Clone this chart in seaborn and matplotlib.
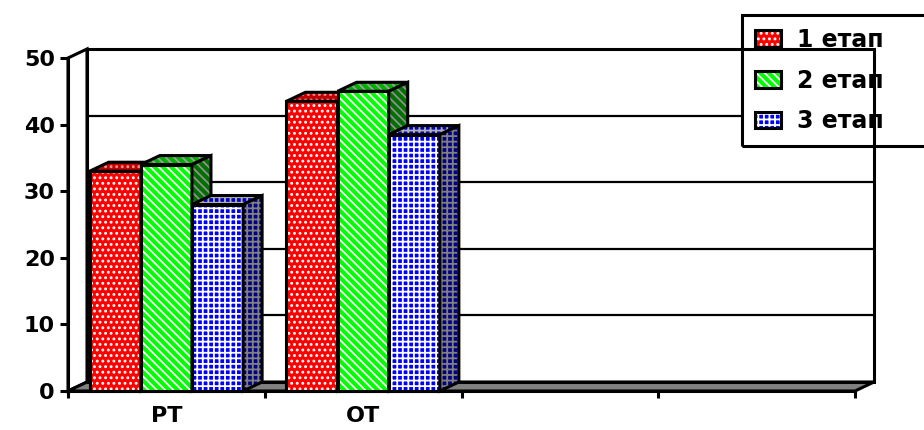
import numpy as np
import pandas as pd
import matplotlib
matplotlib.use("Agg")
import matplotlib.pyplot as plt
import seaborn as sns
from matplotlib.patches import Polygon, Rectangle, Patch
from matplotlib.legend_handler import HandlerTuple

# ---------------- data ----------------
categories = ["РТ", "ОТ"]
empty_slots = 2
stages = ["1 етап", "2 етап", "3 етап"]
stage1 = [33, 43.5]
stage2 = [34, 45]
stage3 = [28, 38.5]
yticks = [0, 10, 20, 30, 40, 50]

# ---------------- styles ----------------
front_colors = ["#ff0000", "#00ff00", "#0000ff"]
hatches = ["...", "\\\\\\\\", "+++"]
top_colors = ["#c00000", "#00b000", "#0000c0"]
top_hatch = ["#ff9090", "#a0a0a0", "#b0b0b0"]
side_colors = ["#900000", "#007000", "#000080"]
side_hatch = ["#c06060", "#909090", "#808080"]

sns.set_theme(style="white")
plt.rcParams["font.family"] = ["DejaVu Sans"]
plt.rcParams["font.weight"] = "bold"
plt.rcParams["text.color"] = "black"
plt.rcParams["hatch.linewidth"] = 1.3

df = pd.DataFrame({
    "cat": categories * 3,
    "stage": np.repeat(stages, len(categories)),
    "val": stage1 + stage2 + stage3,
})

W, H = 924, 430
fig = plt.figure(figsize=(W / 100, H / 100), dpi=100)
ax = fig.add_axes([68 / W, 1 - 391 / H, (855 - 68) / W, (391 - 58) / H])

sns.barplot(data=df, x="cat", y="val", hue="stage", order=categories,
            hue_order=stages, palette=front_colors, width=0.78,
            saturation=1, errorbar=None, legend=False, ax=ax)

x0, x1 = -0.5, len(categories) + empty_slots - 0.5
ymax = yticks[-1]
ax.set_xlim(x0, x1)
ax.set_ylim(0, ymax)

bb = ax.get_position()
dx = 19 * (x1 - x0) / (bb.width * W)
dy = 9 * ymax / (bb.height * H)
LW = 2.2

# walls & floor
ax.add_patch(Rectangle((x0 + dx, dy), x1 - x0, ymax, fc="white", ec="none",
                       zorder=0.1, clip_on=False))
for v in yticks[1:-1]:
    ax.plot([x0 + dx, x1 + dx], [v + dy, v + dy], color="black", lw=1.6,
            zorder=0.2, clip_on=False, solid_capstyle="butt")
    ax.plot([x0, x0 + dx], [v, v + dy], color="black", lw=1.6,
            zorder=0.2, clip_on=False)
ax.add_patch(Rectangle((x0 + dx, dy), x1 - x0, ymax, fc="none", ec="black",
                       lw=LW, zorder=8, clip_on=False))
ax.add_patch(Polygon([(x0, 0), (x0 + dx, dy), (x0 + dx, ymax + dy), (x0, ymax)],
                     closed=True, fc="white", ec="black", lw=LW, zorder=0.3,
                     clip_on=False))
ax.add_patch(Polygon([(x0, 0), (x1, 0), (x1 + dx, dy), (x0 + dx, dy)],
                     closed=True, fc="#808080", ec="black", lw=LW, zorder=0.4,
                     clip_on=False))


def face(pts, fc, hc, hatch, z):
    ax.add_patch(Polygon(pts, closed=True, fc=fc, ec=hc, lw=0, hatch=hatch,
                         zorder=z, clip_on=False))
    ax.add_patch(Polygon(pts, closed=True, fc="none", ec="black", lw=LW,
                         zorder=z + 0.01, clip_on=False, joinstyle="miter"))


bars = []
for i, cont in enumerate(ax.containers):
    for p in cont.patches:
        bars.append((p.get_x(), i, p))
bars.sort(key=lambda t: t[0])

for k, (_, i, p) in enumerate(bars):
    z = 10 + k * 0.1
    x, w, h = p.get_x(), p.get_width(), p.get_height()
    p.set_visible(False)
    face([(x, 0), (x + w, 0), (x + w, h), (x, h)],
         front_colors[i], "white", hatches[i], z)
    face([(x, h), (x + w, h), (x + w + dx, h + dy), (x + dx, h + dy)],
         top_colors[i], top_hatch[i], hatches[i], z + 0.02)
    face([(x + w, 0), (x + w + dx, dy), (x + w + dx, h + dy), (x + w, h)],
         side_colors[i], side_hatch[i], hatches[i], z + 0.04)

# axes styling
for s in ["top", "right"]:
    ax.spines[s].set_visible(False)
for s in ["left", "bottom"]:
    ax.spines[s].set_color("black")
    ax.spines[s].set_linewidth(LW)
    ax.spines[s].set_zorder(7)

ax.set_yticks(yticks)
ax.tick_params(axis="y", which="major", direction="out", length=5.8, width=LW,
               color="black", labelsize=16, pad=3.6, left=True)
ax.set_xticks(range(len(categories)), categories)
ax.set_xticks(np.arange(x0, x1 + 0.01, 1.0), minor=True)
ax.tick_params(axis="x", which="major", length=0, labelsize=16, pad=11)
ax.tick_params(axis="x", which="minor", direction="out", length=5, width=LW,
               color="black", bottom=True)
for lab in ax.get_xticklabels() + ax.get_yticklabels():
    lab.set_fontweight("bold")
    lab.set_color("black")
ax.set_xlabel("")
ax.set_ylabel("")
ax.grid(False)
ax.patch.set_visible(False)

# legend (transparent frame; a white backing sits between gridlines and wall edges)
handles = []
for i in range(3):
    handles.append((Patch(fc=front_colors[i], ec="white", lw=0, hatch=hatches[i]),
                    Patch(fc="none", ec="black", lw=LW)))
leg = ax.legend(handles, stages, loc="upper left",
                bbox_to_anchor=(742 / W, 1 - 15 / H - 0.5, 300 / W, 0.5),
                bbox_transform=fig.transFigure, mode="expand",
                handler_map={tuple: HandlerTuple(ndivide=1, pad=0)},
                prop={"size": 17, "weight": "bold"}, frameon=True,
                framealpha=1, facecolor="none", edgecolor="black",
                fancybox=False, borderaxespad=0, borderpad=0.55,
                handlelength=1.1, handleheight=0.7, handletextpad=0.7,
                labelspacing=0.7)
leg.get_frame().set_linewidth(LW)
leg.get_frame().set_edgecolor("black")
for t in leg.get_texts():
    t.set_color("black")

fig.canvas.draw()
lb = leg.get_window_extent().transformed(ax.transData.inverted())
ax.add_patch(Rectangle((lb.x0, lb.y0), lb.width, lb.height, fc="white",
                       ec="none", zorder=0.25, clip_on=False))

fig.savefig("out.png", dpi=100)
